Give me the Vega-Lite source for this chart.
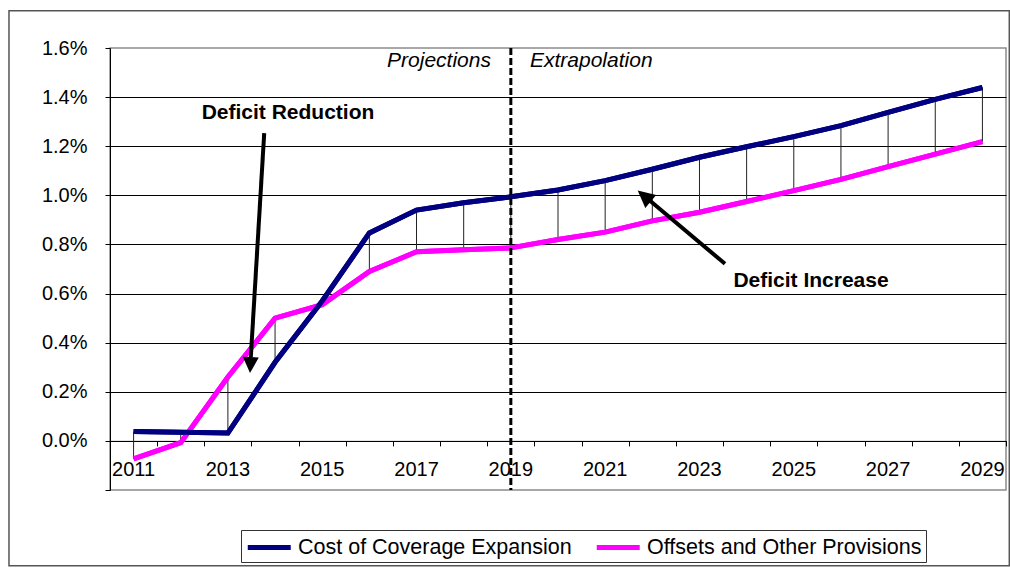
{
  "$schema": "https://vega.github.io/schema/vega-lite/v6.json",
  "width": 896,
  "height": 442,
  "autosize": {"type": "none"},
  "padding": {"left": 110, "top": 48, "right": 4, "bottom": 79},
  "background": "white",
  "config": {
    "font": "Liberation Sans",
    "view": {"stroke": "#8c8c8c", "strokeWidth": 1.5},
    "legend": {
      "orient": "none",
      "legendX": 131,
      "legendY": 482,
      "direction": "horizontal",
      "strokeColor": "#333333",
      "fillColor": "white",
      "padding": 4,
      "symbolType": "M-1,0L3,0",
      "symbolSize": 462,
      "symbolStrokeWidth": 5,
      "labelFontSize": 21.5,
      "labelColor": "black",
      "labelOffset": 26,
      "columnPadding": 14,
      "labelLimit": 0
    }
  },
  "data": {
    "values": [
      {"year": 2011, "cost": 0.038, "offsets": -0.073},
      {"year": 2012, "cost": 0.035, "offsets": -0.007},
      {"year": 2013, "cost": 0.032, "offsets": 0.26},
      {"year": 2014, "cost": 0.32, "offsets": 0.5},
      {"year": 2015, "cost": 0.57, "offsets": 0.555},
      {"year": 2016, "cost": 0.847, "offsets": 0.69},
      {"year": 2017, "cost": 0.94, "offsets": 0.77},
      {"year": 2018, "cost": 0.97, "offsets": 0.778},
      {"year": 2019, "cost": 0.994, "offsets": 0.786},
      {"year": 2020, "cost": 1.022, "offsets": 0.82},
      {"year": 2021, "cost": 1.06, "offsets": 0.85},
      {"year": 2022, "cost": 1.106, "offsets": 0.896},
      {"year": 2023, "cost": 1.155, "offsets": 0.931},
      {"year": 2024, "cost": 1.198, "offsets": 0.975},
      {"year": 2025, "cost": 1.239, "offsets": 1.019},
      {"year": 2026, "cost": 1.284, "offsets": 1.065},
      {"year": 2027, "cost": 1.338, "offsets": 1.117},
      {"year": 2028, "cost": 1.391, "offsets": 1.168},
      {"year": 2029, "cost": 1.439, "offsets": 1.219}
    ]
  },
  "layer": [
    {
      "transform": [{"fold": ["offsets", "cost"], "as": ["series", "value"]}],
      "mark": {"type": "line", "strokeWidth": 5, "strokeJoin": "miter"},
      "encoding": {
        "x": {
          "field": "year", "type": "quantitative",
          "scale": {"domain": [2010.5, 2029.5], "nice": false, "zero": false},
          "axis": {
            "title": null,
            "orient": "bottom",
            "offset": -49.1,
            "values": [2010.5, 2011.5, 2012.5, 2013.5, 2014.5, 2015.5, 2016.5, 2017.5, 2018.5, 2019.5, 2020.5, 2021.5, 2022.5, 2023.5, 2024.5, 2025.5, 2026.5, 2027.5, 2028.5, 2029.5],
            "labels": false,
            "ticks": true,
            "tickSize": 5,
            "tickWidth": 1,
            "tickColor": "black",
            "tickOpacity": 1,
            "domainColor": "black",
            "domainWidth": 1,
            "grid": false
          }
        },
        "y": {
          "field": "value", "type": "quantitative",
          "scale": {"domain": [-0.2, 1.6], "nice": false, "zero": false},
          "axis": {
            "title": null,
            "values": [-0.2, 0, 0.2, 0.4, 0.6, 0.8, 1, 1.2, 1.4, 1.6],
            "labelExpr": "datum.value < -0.1 ? '' : format(datum.value, '.1f') + '%'",
            "labelFontSize": 20,
            "labelColor": "black",
            "labelPadding": 18,
            "tickSize": 5,
            "tickColor": "black",
            "domainColor": "black",
            "domainWidth": 1,
            "grid": true,
            "gridColor": "black",
            "gridWidth": 1,
            "gridOpacity": {"condition": {"test": "datum.value < -0.1 || datum.value > 1.5", "value": 0}, "value": 1}
          }
        },
        "color": {
          "field": "series", "type": "nominal",
          "scale": {"domain": ["cost", "offsets"], "range": ["#000080", "#FF00FF"]},
          "legend": {
            "title": null,
            "labelExpr": "datum.value === 'cost' ? 'Cost of Coverage Expansion' : 'Offsets and Other Provisions'"
          }
        }
      }
    },
    {
      "data": {"values": [{}]},
      "mark": {"type": "rect", "fillOpacity": 0, "stroke": "#555555", "strokeWidth": 1.5, "clip": false},
      "encoding": {
        "x": {"datum": 2008.358, "type": "quantitative", "title": null},
        "x2": {"datum": 2029.57},
        "y": {"datum": 1.7515, "type": "quantitative", "title": null},
        "y2": {"datum": -0.5086}
      }
    },
    {
      "mark": {"type": "rule", "color": "#222222", "strokeWidth": 1},
      "encoding": {
        "x": {"field": "year", "type": "quantitative", "title": null},
        "y": {"field": "cost", "type": "quantitative", "title": null},
        "y2": {"field": "offsets"}
      }
    },
    {
      "transform": [{"fold": ["offsets", "cost"], "as": ["series", "value"]}],
      "mark": {"type": "line", "strokeWidth": 5, "strokeJoin": "miter"},
      "encoding": {
        "x": {"field": "year", "type": "quantitative", "title": null},
        "y": {"field": "value", "type": "quantitative", "title": null},
        "color": {"field": "series", "type": "nominal"}
      }
    },
    {
      "transform": [{"filter": "datum.year % 2 === 1"}],
      "mark": {"type": "text", "fontSize": 20, "align": "center", "baseline": "middle", "color": "black"},
      "encoding": {
        "x": {"field": "year", "type": "quantitative", "title": null},
        "y": {"datum": -0.1177, "type": "quantitative", "title": null},
        "text": {"field": "year", "type": "quantitative", "format": "d"}
      }
    },
    {
      "data": {"values": [{}]},
      "mark": {"type": "rule", "color": "black", "strokeWidth": 3, "strokeDash": [7, 3]},
      "encoding": {
        "x": {"datum": 2019, "type": "quantitative", "title": null}
      }
    },
    {
      "data": {"values": [{}]},
      "mark": {"type": "text", "text": "Projections", "fontStyle": "italic", "fontSize": 21, "align": "right", "baseline": "alphabetic", "color": "black"},
      "encoding": {
        "x": {"datum": 2018.579, "type": "quantitative", "title": null},
        "y": {"datum": 1.5234, "type": "quantitative", "title": null}
      }
    },
    {
      "data": {"values": [{}]},
      "mark": {"type": "text", "text": "Extrapolation", "fontStyle": "italic", "fontSize": 21, "align": "left", "baseline": "alphabetic", "color": "black"},
      "encoding": {
        "x": {"datum": 2019.406, "type": "quantitative", "title": null},
        "y": {"datum": 1.5234, "type": "quantitative", "title": null}
      }
    },
    {
      "data": {"values": [{}]},
      "mark": {"type": "text", "text": "Deficit Reduction", "fontWeight": "bold", "fontSize": 21, "align": "center", "baseline": "alphabetic", "color": "black"},
      "encoding": {
        "x": {"datum": 2014.274, "type": "quantitative", "title": null},
        "y": {"datum": 1.3117, "type": "quantitative", "title": null}
      }
    },
    {
      "data": {"values": [{}]},
      "mark": {"type": "text", "text": "Deficit Increase", "fontWeight": "bold", "fontSize": 21, "align": "center", "baseline": "alphabetic", "color": "black"},
      "encoding": {
        "x": {"datum": 2025.365, "type": "quantitative", "title": null},
        "y": {"datum": 0.6255, "type": "quantitative", "title": null}
      }
    },
    {
      "data": {"values": [{}]},
      "mark": {"type": "rule", "color": "black", "strokeWidth": 4},
      "encoding": {
        "x": {"datum": 2013.77, "type": "quantitative", "title": null},
        "y": {"datum": 1.2535, "type": "quantitative", "title": null},
        "x2": {"datum": 2013.486},
        "y2": {"datum": 0.3413}
      }
    },
    {
      "data": {"values": [{}]},
      "mark": {"type": "point", "shape": "M0,0L-1,2L1,2Z", "filled": true, "color": "black", "opacity": 1, "size": 256, "angle": 182.9},
      "encoding": {
        "x": {"datum": 2013.469, "type": "quantitative", "title": null},
        "y": {"datum": 0.2761, "type": "quantitative", "title": null}
      }
    },
    {
      "data": {"values": [{}]},
      "mark": {"type": "rule", "color": "black", "strokeWidth": 4},
      "encoding": {
        "x": {"datum": 2023.541, "type": "quantitative", "title": null},
        "y": {"datum": 0.7212, "type": "quantitative", "title": null},
        "x2": {"datum": 2021.951},
        "y2": {"datum": 0.9778}
      }
    },
    {
      "data": {"values": [{}]},
      "mark": {"type": "point", "shape": "M0,0L-1,2L1,2Z", "filled": true, "color": "black", "opacity": 1, "size": 289, "angle": 309.9},
      "encoding": {
        "x": {"datum": 2021.69, "type": "quantitative", "title": null},
        "y": {"datum": 1.0197, "type": "quantitative", "title": null}
      }
    }
  ]
}
